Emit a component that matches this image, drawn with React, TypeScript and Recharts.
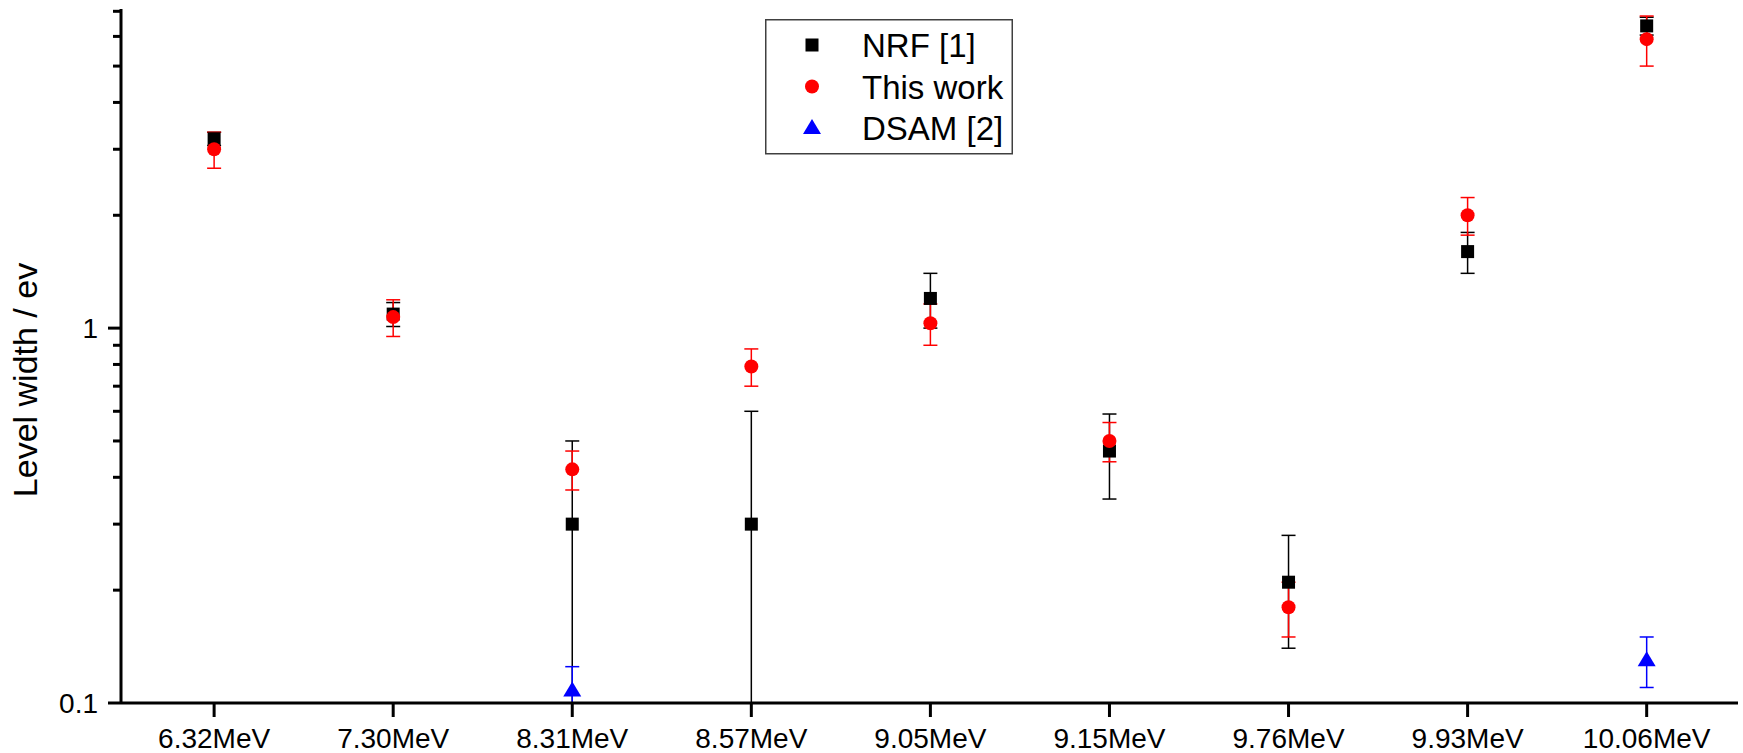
import React from 'react';
import { ScatterChart, Scatter, XAxis, YAxis, ErrorBar, Legend } from 'recharts';

// ---- data ----
const categories = ['6.32MeV', '7.30MeV', '8.31MeV', '8.57MeV', '9.05MeV', '9.15MeV', '9.76MeV', '9.93MeV', '10.06MeV'];

const nrfValues = [3.2, 1.09, 0.3, 0.3, 1.2, 0.47, 0.21, 1.6, 6.4];
const nrfErrors = [0.13, 0.08, 0.2, 0.3, 0.2, 0.12, 0.07, 0.2, 0.35];

const workValues = [3.0, 1.07, 0.42, 0.79, 1.03, 0.5, 0.18, 2.0, 5.9];
const workErrors = [0.33, 0.12, 0.05, 0.09, 0.13, 0.06, 0.03, 0.23, 0.9];

const dsamCategories = ['8.31MeV', '10.06MeV'];
const dsamValues = [0.108, 0.13];
const dsamErrors = [0.017, 0.02];

const yMajorTicks = [0.1, 1];
const yMinorTicks = [0.2, 0.3, 0.4, 0.5, 0.6, 0.7, 0.8, 0.9, 2, 3, 4, 5, 6, 7];
const yTicks = [...yMajorTicks, ...yMinorTicks].sort((a, b) => a - b);

const Y_MIN = 0.1;
const Y_MAX = 7.1;

const FONT = '"Liberation Sans", Arial, Helvetica, sans-serif';

// error bars are clipped at the bottom of the log axis, as in the picture
function build(cats: string[], vals: number[], errs: number[]) {
  return vals.map((v, i) => ({
    x: categories.indexOf(cats[i]) + 1,
    y: v,
    err: [Math.min(errs[i], v - Y_MIN), errs[i]],
  }));
}

const nrfData = build(categories, nrfValues, nrfErrors);
const workData = build(categories, workValues, workErrors);
const dsamData = build(dsamCategories, dsamValues, dsamErrors);

const xTicks = categories.map((_, i) => i + 1);

// ---- shapes ----
const SquareShape = (p: any) => (
  <rect x={p.cx - 6.5} y={p.cy - 6.5} width={13} height={13} fill="#000" />
);
const CircleShape = (p: any) => <circle cx={p.cx} cy={p.cy} r={7} fill="#ff0000" />;
const TriangleShape = (p: any) => (
  <polygon
    points={`${p.cx},${p.cy - 9} ${p.cx - 9},${p.cy + 6} ${p.cx + 9},${p.cy + 6}`}
    fill="#0000ff"
  />
);

const legendItems = [
  { name: 'NRF [1]', Shape: SquareShape },
  { name: 'This work', Shape: CircleShape },
  { name: 'DSAM [2]', Shape: TriangleShape },
];

const LegendBox = () => (
  <svg width={249} height={136} style={{ display: 'block' }}>
    <rect x={0.75} y={0.75} width={246.5} height={134} fill="#fff" stroke="#404040" strokeWidth={1.5} />
    {legendItems.map((it, i) => {
      const cy = 26 + i * 41.5;
      return (
        <g key={it.name}>
          <it.Shape cx={47} cy={cy} />
          <text x={97} y={cy + 12} fontSize={33} fontFamily={FONT} fill="#000">
            {it.name}
          </text>
        </g>
      );
    })}
  </svg>
);

const YTick = (props: any) => {
  const { x, y, payload } = props;
  const major = yMajorTicks.includes(payload.value);
  return (
    <g>
      <line x1={x} x2={x - (major ? 13 : 8)} y1={y} y2={y} stroke="#000" strokeWidth={3} />
      {major && (
        <text x={x - 23} y={y} dy="0.36em" textAnchor="end" fontSize={28} fontFamily={FONT} fill="#000">
          {payload.value}
        </text>
      )}
    </g>
  );
};

const XTick = (props: any) => {
  const { x, y, payload } = props;
  return (
    <g>
      <line x1={x} x2={x} y1={y} y2={y + 14} stroke="#000" strokeWidth={3} />
      <text x={x} y={y + 45} textAnchor="middle" fontSize={28} fontFamily={FONT} fill="#000">
        {categories[payload.value - 1]}
      </text>
    </g>
  );
};

const YLabel = (props: any) => {
  const vb = props.viewBox || { x: 120, y: 9, width: 1, height: 694 };
  const x = vb.x + vb.width - 96;
  const y = vb.y + vb.height / 2 + 24;
  return (
    <text
      x={x}
      y={y}
      transform={`rotate(-90, ${x}, ${y})`}
      textAnchor="middle"
      dominantBaseline="central"
      fontSize={34}
      fontFamily={FONT}
      fill="#000"
    >
      Level width / ev
    </text>
  );
};

export default function App() {
  return (
    <div style={{ position: 'absolute', left: 0, top: 0, width: 1743, height: 753, background: '#fff' }}>
      <ScatterChart width={1743} height={753} margin={{ top: 9, right: 5, bottom: 49, left: 120 }}>
        <XAxis
          type="number"
          dataKey="x"
          domain={[0.48, 9.51]}
          ticks={xTicks}
          interval={0}
          allowDataOverflow
          height={1}
          tickSize={0}
          tickMargin={0}
          tickLine={false}
          axisLine={{ stroke: '#000', strokeWidth: 3 }}
          tick={<XTick />}
        />
        <YAxis
          type="number"
          dataKey="y"
          scale="log"
          domain={[Y_MIN, Y_MAX]}
          ticks={yTicks}
          interval={0}
          allowDataOverflow
          width={1}
          tickSize={0}
          tickMargin={0}
          tickLine={false}
          axisLine={{ stroke: '#000', strokeWidth: 3 }}
          tick={<YTick />}
          label={(p: any) => <YLabel {...p} />}
        />
        <Legend
          layout="horizontal"
          verticalAlign="middle"
          align="center"
          content={() => <LegendBox />}
          wrapperStyle={{ position: 'absolute', left: 765, top: 19, width: 249, height: 136 }}
        />
        <Scatter name="NRF [1]" data={nrfData} fill="#000" shape={SquareShape} isAnimationActive={false}>
          <ErrorBar dataKey="err" direction="y" width={7} stroke="#000" strokeWidth={1.5} />
        </Scatter>
        <Scatter name="This work" data={workData} fill="#ff0000" shape={CircleShape} isAnimationActive={false}>
          <ErrorBar dataKey="err" direction="y" width={7} stroke="#ff0000" strokeWidth={1.5} />
        </Scatter>
        <Scatter name="DSAM [2]" data={dsamData} fill="#0000ff" shape={TriangleShape} isAnimationActive={false}>
          <ErrorBar dataKey="err" direction="y" width={7} stroke="#0000ff" strokeWidth={1.5} />
        </Scatter>
      </ScatterChart>
    </div>
  );
}
